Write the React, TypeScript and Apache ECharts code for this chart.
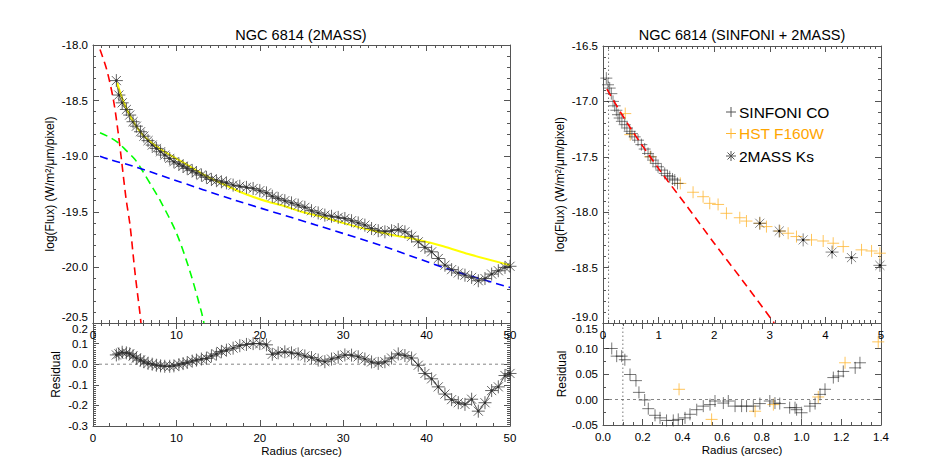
import React, { useEffect, useRef } from "react";
import * as echarts from "echarts";

const FONT = "'Liberation Sans', Arial, Helvetica, sans-serif";
const AX = "#555";

// ---------- Left panel: NGC 6814 (2MASS) ----------
const r2mass = [
  2.8, 3.1, 3.5, 4.0, 4.4, 4.8, 5.2, 5.7, 6.1, 6.6,
  7.1, 7.6, 8.1, 8.6, 9.2, 9.7, 10.3, 10.8, 11.3, 11.9,
  12.4, 13.0, 13.6, 14.2, 14.8, 15.4, 16.0, 16.8, 17.6, 18.4,
  19.2, 20.0, 20.8, 21.5, 22.2, 23.0, 23.8, 24.6, 25.4, 26.2,
  27.0, 27.8, 28.6, 29.4, 30.2, 31.0, 31.8, 32.6, 33.4, 34.2,
  35.0, 35.8, 36.6, 37.4, 38.2, 39.0, 39.8, 40.6, 41.4, 42.2,
  43.0, 43.8, 44.6, 45.4, 46.2, 47.0, 47.8, 48.6, 49.4, 50.0,
];
const flux2mass = [
  -18.32, -18.45, -18.52, -18.58, -18.63, -18.69, -18.73, -18.78, -18.82, -18.86,
  -18.9, -18.93, -18.96, -18.99, -19.02, -19.05, -19.07, -19.09, -19.11, -19.13,
  -19.15, -19.17, -19.19, -19.21, -19.22, -19.23, -19.24, -19.26, -19.27, -19.28,
  -19.29, -19.31, -19.33, -19.36, -19.38, -19.4, -19.42, -19.44, -19.46, -19.49,
  -19.51, -19.53, -19.54, -19.55, -19.56, -19.58, -19.6, -19.62, -19.65, -19.67,
  -19.68, -19.67, -19.66, -19.68, -19.72, -19.77, -19.82, -19.86, -19.92, -19.98,
  -20.02, -20.05, -20.07, -20.09, -20.12, -20.1, -20.06, -20.03, -20.0, -19.99,
];
const resid2mass = [
  0.045, 0.05, 0.058, 0.055, 0.05, 0.04, 0.03, 0.02, 0.012, 0.004,
  0.0, -0.005, -0.008, -0.01, -0.01, -0.008, -0.002, 0.003, 0.008, 0.015,
  0.02, 0.025, 0.028, 0.04, 0.05, 0.062, 0.068, 0.078, 0.09, 0.096,
  0.1, 0.1, 0.094, 0.048, 0.055, 0.06, 0.055, 0.05, 0.04, 0.032,
  0.02, 0.012, 0.025, 0.034, 0.045, 0.044, 0.036, 0.025, 0.011, 0.004,
  0.012, 0.03, 0.05, 0.042, 0.03, -0.005, -0.045, -0.071, -0.11, -0.145,
  -0.172, -0.187, -0.195, -0.17, -0.228, -0.187, -0.128, -0.11, -0.055, -0.045,
];

// total model (yellow)
const rTotal = [2.9, 3.5, 4.2, 5.0, 6.0, 7.4, 8.8, 10.2, 11.8, 13.4, 15.0, 16.2, 17.6, 19.0, 21.0, 23.0, 25.0, 27.2, 30.0, 33.0, 36.0, 38.8, 42.0, 45.0, 50.0];
const fluxTotal = [-18.34, -18.48, -18.6, -18.71, -18.81, -18.9, -18.97, -19.03, -19.1, -19.17, -19.23, -19.27, -19.32, -19.36, -19.41, -19.45, -19.5, -19.54, -19.6, -19.66, -19.71, -19.75, -19.81, -19.88, -19.98];
// bulge component (red)
const rBulge = [0.84, 1.64, 2.44, 3.04, 3.44, 3.96, 4.44, 5.04, 5.64, 5.75];
const fluxBulge = [-18.04, -18.22, -18.49, -18.8, -19.05, -19.38, -19.62, -20.05, -20.42, -20.5];
// second component (green)
const rComp2 = [0.84, 2.0, 3.04, 4.0, 5.04, 6.0, 7.2, 8.0, 10.0, 11.6, 13.0, 13.3];
const fluxComp2 = [-18.79, -18.83, -18.88, -18.95, -19.03, -19.14, -19.29, -19.39, -19.69, -20.03, -20.4, -20.5];
// disk component (blue)
const rDisk = [0.84, 2.0, 4.84, 9.6, 16.8, 26.8, 34.8, 42.8, 50.0];
const fluxDisk = [-19.0, -19.03, -19.09, -19.21, -19.39, -19.62, -19.81, -20.02, -20.18];

// ---------- Right panel: NGC 6814 (SINFONI + 2MASS) ----------
const rSinfoni = [0.06, 0.09, 0.12, 0.15, 0.18, 0.21, 0.24, 0.27, 0.3, 0.34, 0.39, 0.43, 0.48, 0.52, 0.57, 0.63, 0.69, 0.75, 0.81, 0.86, 0.9, 0.95, 0.99, 1.05, 1.11, 1.16, 1.2, 1.25, 1.29, 1.34];
const fluxSinfoni = [-16.79, -16.85, -16.88, -16.93, -17.0, -17.04, -17.08, -17.12, -17.15, -17.18, -17.21, -17.24, -17.27, -17.29, -17.32, -17.35, -17.39, -17.43, -17.47, -17.5, -17.53, -17.56, -17.59, -17.62, -17.65, -17.67, -17.68, -17.7, -17.71, -17.74];
const rHst = [0.4, 0.49, 0.85, 1.39, 1.62, 1.8, 1.92, 2.07, 2.22, 2.46, 2.58, 2.82, 2.94, 3.18, 3.33, 3.48, 3.75, 3.96, 4.14, 4.32, 4.65, 4.83, 4.98];
const fluxHst = [-17.11, -17.3, -17.5, -17.74, -17.82, -17.86, -17.92, -17.93, -18.01, -18.05, -18.08, -18.1, -18.13, -18.17, -18.19, -18.22, -18.25, -18.26, -18.28, -18.31, -18.34, -18.35, -18.37];
const r2massK = [2.82, 3.17, 3.6, 4.12, 4.47, 4.98];
const flux2massK = [-18.1, -18.17, -18.25, -18.36, -18.41, -18.48];
const rModelR = [0.07, 0.48, 1.02, 1.5, 2.0, 2.5, 3.08];
const fluxModelR = [-16.89, -17.23, -17.62, -17.94, -18.28, -18.61, -19.0];

const rSinRes = [0.044, 0.069, 0.094, 0.11, 0.136, 0.166, 0.181, 0.21, 0.228, 0.262, 0.287, 0.32, 0.354, 0.379, 0.413, 0.438, 0.472, 0.505, 0.539, 0.564, 0.606, 0.631, 0.665, 0.698, 0.723, 0.757, 0.79, 0.84, 0.866, 0.89, 0.94, 0.967, 0.975, 1.0, 1.042, 1.068, 1.093, 1.118, 1.16, 1.185, 1.21, 1.27, 1.294];
const resSin = [0.1, 0.085, 0.085, 0.078, 0.049, 0.037, 0.014, -0.001, -0.018, -0.031, -0.036, -0.041, -0.041, -0.039, -0.036, -0.029, -0.02, -0.013, -0.01, -0.003, -0.007, -0.003, -0.013, -0.013, -0.013, -0.013, -0.008, -0.003, -0.007, -0.008, -0.016, -0.016, -0.02, -0.026, -0.013, -0.008, 0.01, 0.02, 0.043, 0.046, 0.055, 0.062, 0.072];
const rHstRes = [0.383, 0.547, 0.766, 0.858, 1.084, 1.219, 1.386];
const resHst = [0.02, -0.039, -0.023, -0.01, 0.005, 0.072, 0.113];

const legendNames = ["SINFONI CO", "HST F160W", "2MASS Ks"];
const titles = ["NGC 6814 (2MASS)", "NGC 6814 (SINFONI + 2MASS)"];
const yTitle = "log(Flux) (W/m\u00B2/\u03BCm/pixel)";

const ASTER = "path://M10,0L10,20M0,10L20,10M3,3L17,17M3,17L17,3";
const PLUS = "path://M0,10L20,10M10,0L10,20";

const zip = (a: number[], b: number[]) => a.map((v, i) => [v, b[i]]);

function xAxis(grid: number, min: number, max: number, interval: number, pos: string, labels: boolean, minor: number, fmt: (v: number) => string, name?: string) {
  return {
    type: "value", gridIndex: grid, min, max, interval, position: pos,
    axisLine: { show: true, onZero: false, lineStyle: { color: AX, width: 1 } },
    axisTick: { show: true, inside: true, length: 6, lineStyle: { color: AX } },
    minorTick: { show: true, splitNumber: minor, length: 3, lineStyle: { color: AX } },
    splitLine: { show: false },
    axisLabel: { show: labels, formatter: fmt, color: "#000", fontSize: 11.5, fontFamily: FONT, margin: 6 },
    name: name || "", nameLocation: "middle", nameGap: 19,
    nameTextStyle: { color: "#000", fontSize: 11.5, fontFamily: FONT },
  };
}
function yAxis(grid: number, min: number, max: number, interval: number, pos: string, labels: boolean, minor: number, fmt: (v: number) => string, name?: string, gap?: number, va?: any) {
  return {
    type: "value", gridIndex: grid, min, max, interval, position: pos,
    axisLine: { show: true, onZero: false, lineStyle: { color: AX, width: 1 } },
    axisTick: { show: true, inside: true, length: 6, lineStyle: { color: AX } },
    minorTick: { show: true, splitNumber: minor, length: 3, lineStyle: { color: AX } },
    splitLine: { show: false },
    axisLabel: { show: labels, formatter: fmt, color: "#000", fontSize: 11.5, fontFamily: FONT, margin: 5, ...(va || {}) },
    name: name || "", nameLocation: "middle", nameGap: gap || 30,
    nameTextStyle: { color: "#000", fontSize: 12, fontFamily: FONT },
  };
}

const f0 = (v: number) => v.toFixed(0);
const f1 = (v: number) => v.toFixed(1);
const f2 = (v: number) => v.toFixed(2);

export default function App() {
  const ref = useRef<HTMLDivElement>(null);
  useEffect(() => {
    if (!ref.current) return;
    const chart = echarts.init(ref.current, null, { renderer: "svg" });
    const starStyle = { color: "rgba(0,0,0,0)", borderColor: "rgba(50,50,50,0.75)", borderWidth: 1 };
    const dash = (color: string) => ({ color, width: 1.6, type: [8, 5] });
    const topVA = { verticalAlignMinLabel: "bottom" };
    const botVA = { verticalAlignMaxLabel: "top" };
    const option: any = {
      animation: false,
      grid: [
        { left: 93, top: 45, width: 417, height: 278 },
        { left: 93, top: 323, width: 417, height: 103 },
        { left: 603, top: 46, width: 278, height: 277 },
        { left: 603, top: 323, width: 278, height: 102 },
      ],
      xAxis: [
        xAxis(0, 0, 50, 10, "bottom", true, 10, f0),
        xAxis(0, 0, 50, 10, "top", false, 10, f0),
        xAxis(1, 0, 50, 10, "bottom", true, 5, f0, "Radius (arcsec)"),
        xAxis(1, 0, 50, 10, "top", false, 10, f0),
        xAxis(2, 0, 5, 1, "bottom", true, 10, f0),
        xAxis(2, 0, 5, 1, "top", false, 10, f0),
        xAxis(3, 0, 1.4, 0.2, "bottom", true, 4, f1, "Radius (arcsec)"),
        xAxis(3, 0, 1.4, 0.2, "top", false, 4, f1),
      ],
      yAxis: [
        yAxis(0, -20.5, -18.0, 0.5, "left", true, 5, f1, yTitle, 37, topVA),
        yAxis(0, -20.5, -18.0, 0.5, "right", false, 5, f1),
        yAxis(1, -0.3, 0.2, 0.1, "left", true, 10, f1, "Residual", 31, botVA),
        yAxis(1, -0.3, 0.2, 0.1, "right", false, 10, f1),
        yAxis(2, -19.0, -16.5, 0.5, "left", true, 5, f1, yTitle, 37, topVA),
        yAxis(2, -19.0, -16.5, 0.5, "right", false, 5, f1),
        yAxis(3, -0.05, 0.15, 0.05, "left", true, 2, f2, "Residual", 34, botVA),
        yAxis(3, -0.05, 0.15, 0.05, "right", false, 2, f2),
      ],
      series: [
        // left top
        { type: "line", xAxisIndex: 0, yAxisIndex: 0, data: zip(r2mass, flux2mass), symbol: ASTER, symbolSize: 13, itemStyle: starStyle, lineStyle: { color: "#222", width: 0.8 } },
        { type: "scatter", xAxisIndex: 0, yAxisIndex: 0, data: zip(r2mass, flux2mass), symbol: "circle", symbolSize: 2.5, itemStyle: { color: "#000" } },
        { type: "line", xAxisIndex: 0, yAxisIndex: 0, data: zip(rTotal, fluxTotal), showSymbol: false, smooth: 0.3, lineStyle: { color: "#FFFF00", width: 2 } },
        { type: "line", xAxisIndex: 0, yAxisIndex: 0, data: zip(rBulge, fluxBulge), showSymbol: false, smooth: 0.3, lineStyle: dash("#FF0000") },
        { type: "line", xAxisIndex: 0, yAxisIndex: 0, data: zip(rComp2, fluxComp2), showSymbol: false, smooth: 0.3, lineStyle: dash("#00FF00") },
        { type: "line", xAxisIndex: 0, yAxisIndex: 0, data: zip(rDisk, fluxDisk), showSymbol: false, smooth: 0.3, lineStyle: dash("#0000FF") },
        // left bottom
        { type: "line", xAxisIndex: 2, yAxisIndex: 2, data: [[0, 0], [50, 0]], showSymbol: false, lineStyle: { color: "#666", width: 0.8, type: [3, 3] } },
        { type: "line", xAxisIndex: 2, yAxisIndex: 2, data: zip(r2mass, resid2mass), symbol: ASTER, symbolSize: 13, itemStyle: starStyle, lineStyle: { color: "#222", width: 0.8 } },
        { type: "scatter", xAxisIndex: 2, yAxisIndex: 2, data: zip(r2mass, resid2mass), symbol: "circle", symbolSize: 2.5, itemStyle: { color: "#000" } },
        // right top
        { type: "line", xAxisIndex: 4, yAxisIndex: 4, data: [[0.1, -19.0], [0.1, -16.5]], showSymbol: false, lineStyle: { color: "#555", width: 0.8, type: [1.5, 2.5] } },
        { type: "scatter", xAxisIndex: 4, yAxisIndex: 4, data: zip(rHst, fluxHst), symbol: PLUS, symbolSize: 12, itemStyle: { color: "rgba(0,0,0,0)", borderColor: "#FFB733", borderWidth: 1 } },
        { type: "scatter", xAxisIndex: 4, yAxisIndex: 4, data: zip(rSinfoni, fluxSinfoni), symbol: PLUS, symbolSize: 12, itemStyle: { color: "rgba(0,0,0,0)", borderColor: "rgba(30,30,30,0.7)", borderWidth: 1 } },
        { type: "scatter", xAxisIndex: 4, yAxisIndex: 4, data: zip(r2massK, flux2massK), symbol: ASTER, symbolSize: 13, itemStyle: starStyle },
        { type: "scatter", xAxisIndex: 4, yAxisIndex: 4, data: zip(r2massK, flux2massK), symbol: "circle", symbolSize: 2.5, itemStyle: { color: "#000" } },
        { type: "line", xAxisIndex: 4, yAxisIndex: 4, data: zip(rModelR, fluxModelR), showSymbol: false, smooth: 0.3, lineStyle: dash("#FF0000") },
        // right bottom
        { type: "line", xAxisIndex: 6, yAxisIndex: 6, data: [[0, 0], [1.4, 0]], showSymbol: false, lineStyle: { color: "#666", width: 0.8, type: [3, 3] } },
        { type: "line", xAxisIndex: 6, yAxisIndex: 6, data: [[0.1, -0.05], [0.1, 0.15]], showSymbol: false, lineStyle: { color: "#555", width: 0.8, type: [1.5, 2.5] } },
        { type: "scatter", xAxisIndex: 6, yAxisIndex: 6, data: zip(rHstRes, resHst), symbol: PLUS, symbolSize: 12, itemStyle: { color: "rgba(0,0,0,0)", borderColor: "#FFB733", borderWidth: 1 } },
        { type: "scatter", xAxisIndex: 6, yAxisIndex: 6, data: zip(rSinRes, resSin), symbol: PLUS, symbolSize: 12, itemStyle: { color: "rgba(0,0,0,0)", borderColor: "rgba(30,30,30,0.75)", borderWidth: 1 } },
      ],
      graphic: [
        { type: "text", x: 301, y: 35, style: { text: titles[0], fill: "#000", fontSize: 14.5, fontFamily: FONT, align: "center", verticalAlign: "middle" } },
        { type: "text", x: 742, y: 35, style: { text: titles[1], fill: "#000", fontSize: 14.5, fontFamily: FONT, align: "center", verticalAlign: "middle" } },
        // legend symbols
        { type: "line", shape: { x1: 726, y1: 112, x2: 736, y2: 112 }, style: { stroke: "#555", lineWidth: 1 } },
        { type: "line", shape: { x1: 731, y1: 107, x2: 731, y2: 117 }, style: { stroke: "#555", lineWidth: 1 } },
        { type: "line", shape: { x1: 726, y1: 133.5, x2: 736, y2: 133.5 }, style: { stroke: "#FFB733", lineWidth: 1 } },
        { type: "line", shape: { x1: 731, y1: 128.5, x2: 731, y2: 138.5 }, style: { stroke: "#FFB733", lineWidth: 1 } },
        { type: "line", shape: { x1: 726, y1: 156, x2: 736, y2: 156 }, style: { stroke: "#555", lineWidth: 1 } },
        { type: "line", shape: { x1: 731, y1: 151, x2: 731, y2: 161 }, style: { stroke: "#555", lineWidth: 1 } },
        { type: "line", shape: { x1: 727.5, y1: 152.5, x2: 734.5, y2: 159.5 }, style: { stroke: "#555", lineWidth: 1 } },
        { type: "line", shape: { x1: 727.5, y1: 159.5, x2: 734.5, y2: 152.5 }, style: { stroke: "#555", lineWidth: 1 } },
        { type: "text", x: 739, y: 112, style: { text: legendNames[0], fill: "#000", fontSize: 15.5, fontFamily: FONT, verticalAlign: "middle" } },
        { type: "text", x: 739, y: 133.5, style: { text: legendNames[1], fill: "#FFA500", fontSize: 15.5, fontFamily: FONT, verticalAlign: "middle" } },
        { type: "text", x: 739, y: 156, style: { text: legendNames[2], fill: "#000", fontSize: 15.5, fontFamily: FONT, verticalAlign: "middle" } },
      ],
    };
    chart.setOption(option);
    return () => chart.dispose();
  }, []);
  return <div ref={ref} style={{ position: "fixed", left: 0, top: 0, width: 926, height: 463, background: "#fff" }} />;
}
